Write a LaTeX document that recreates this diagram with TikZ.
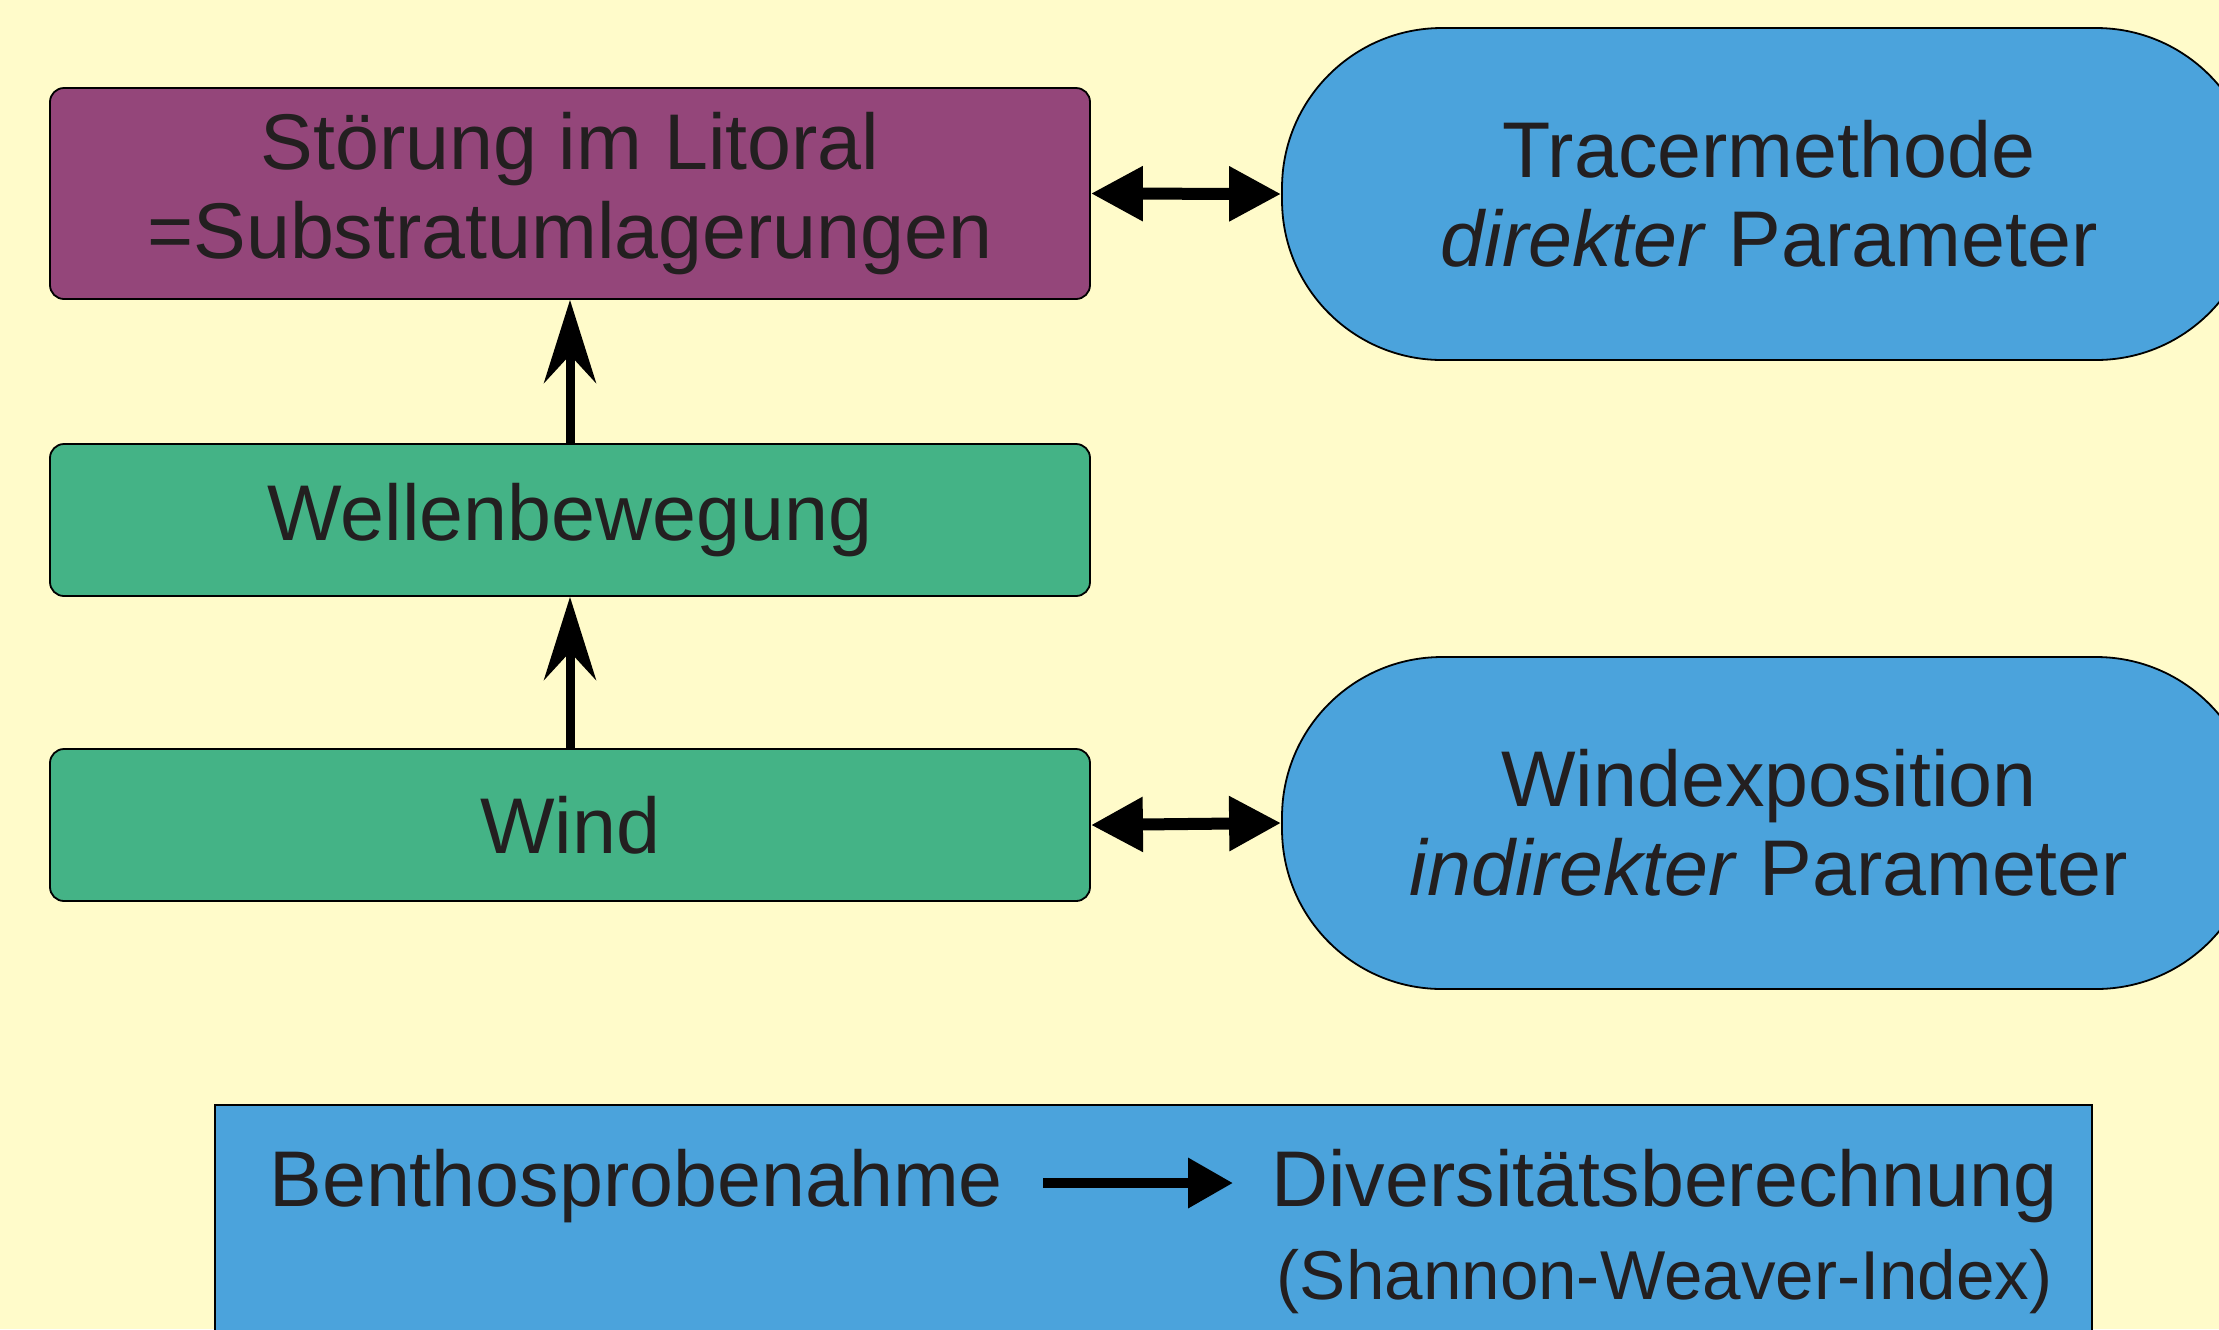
\documentclass[tikz,border=0pt]{standalone}
\usepackage{fontspec}
\setmainfont{Liberation Sans}
\usetikzlibrary{arrows.meta}
\definecolor{bgyellow}{RGB}{255,251,202}
\definecolor{purp}{RGB}{148,70,122}
\definecolor{grn}{RGB}{68,179,134}
\definecolor{blu}{RGB}{75,163,220}
\definecolor{txt}{RGB}{35,31,32}
\begin{document}
\begin{tikzpicture}[x=0.5pt,y=-0.5pt,
  bigfont/.style={font=\fontsize{39.5}{44.5}\selectfont},
  boxnode/.style={draw=black, line width=0.9pt, rounded corners=7pt, minimum width=520pt,
    inner sep=0pt, align=center, text=txt, bigfont},
  stadium/.style={draw=black, line width=0.9pt, rounded corners=80pt, fill=blu,
    minimum width=487pt, minimum height=166pt, inner sep=0pt, align=center, text=txt, bigfont},
  uparrow/.style={line width=4.5pt, -{Stealth[length=41.5pt, width=26pt, inset=14pt]}},
  duoarrow/.style={line width=6pt, {Triangle[length=26pt, width=26pt]}-{Triangle[length=26pt, width=26pt]}},
  smallarrow/.style={line width=5pt, -{Triangle[length=22.5pt, width=24pt]}}
]
\useasboundingbox (0,0) rectangle (2219,1329);
\clip (0,0) rectangle (2219,1329);
\fill[bgyellow] (0,0) rectangle (2219,1329);

% left column
\node[boxnode, fill=purp, minimum height=105.5pt] (stoer) at (570,193.5)
  {Störung im Litoral\\=Substratumlagerungen};
\node[boxnode, fill=grn, minimum height=76pt] (welle) at (570,520) {Wellenbewegung};
\node[boxnode, fill=grn, minimum height=76pt] (wind) at (570,825) {Wind};

% right stadiums
\node[stadium] (tracer) at (1769,194)
  {Tracermethode\\\textit{direkter} Parameter};
\node[stadium] (windexp) at (1769,823)
  {Windexposition\\\textit{indirekter} Parameter};

% bottom box
\node[draw=black, line width=0.9pt, fill=blu, minimum width=938.5pt, minimum height=120pt,
  inner sep=0pt] (bottom) at (1153.5,1225) {};
\node[anchor=base west, inner sep=0pt, text=txt, bigfont] (bentho) at (269,1206) {Benthosprobenahme};
\node[anchor=base west, inner sep=0pt, text=txt, bigfont] (divers) at (1271,1206) {Diversitätsberechnung};
\node[anchor=base east, inner sep=0pt, text=txt, font=\fontsize{34.6}{40}\selectfont] (shannon) at (2053,1299) {(Shannon-Weaver-Index)};

% connectors
\draw[uparrow] (welle.north) -- (stoer.south);
\draw[uparrow] (wind.north) -- (welle.south);
\draw[duoarrow] (stoer.east) -- (tracer.west);
\draw[duoarrow] (wind.east) -- (windexp.west);
\draw[smallarrow, shorten <=20pt, shorten >=19pt]
  ([yshift=11.5pt]bentho.base east) -- ([yshift=11.5pt]divers.base west);
\end{tikzpicture}
\end{document}
